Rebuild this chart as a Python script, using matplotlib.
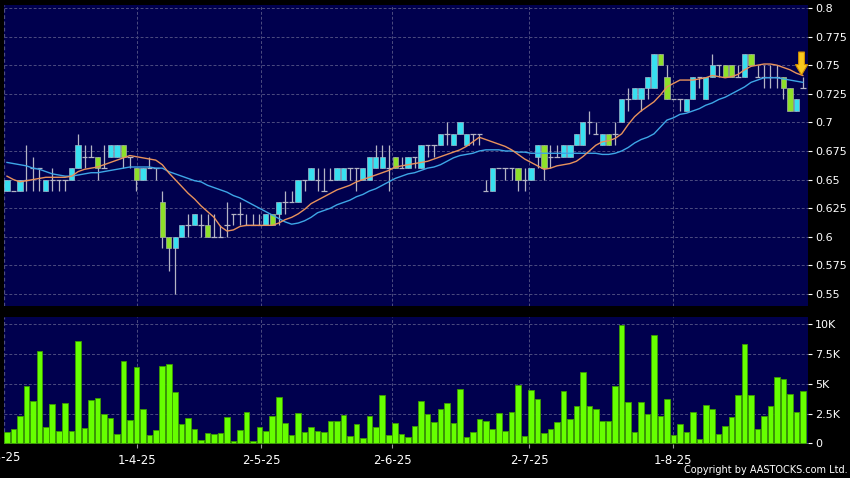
import numpy as np
import matplotlib.pyplot as plt
from matplotlib.patches import Polygon
import matplotlib.transforms as mtransforms

# daily candles (price in HKD), one per trading day
opens = [0.64, 0.64, 0.64, 0.65, 0.66, 0.66, 0.64, 0.65, 0.65, 0.65,
         0.65, 0.66, 0.67, 0.67, 0.67, 0.66, 0.67, 0.67, 0.68, 0.67,
         0.66, 0.65, 0.66, 0.66, 0.63, 0.60, 0.59, 0.60, 0.61, 0.61,
         0.61, 0.61, 0.60, 0.60, 0.61, 0.62, 0.62, 0.61, 0.61, 0.61,
         0.61, 0.62, 0.62, 0.63, 0.63, 0.63, 0.65, 0.65, 0.65, 0.64,
         0.65, 0.65, 0.65, 0.66, 0.66, 0.65, 0.65, 0.66, 0.66, 0.66,
         0.67, 0.66, 0.66, 0.67, 0.66, 0.68, 0.68, 0.68, 0.69, 0.68,
         0.69, 0.68, 0.69, 0.69, 0.64, 0.64, 0.66, 0.66, 0.66, 0.66,
         0.65, 0.65, 0.67, 0.68, 0.67, 0.67, 0.67, 0.67, 0.68, 0.68,
         0.70, 0.69, 0.68, 0.69, 0.69, 0.70, 0.72, 0.72, 0.72, 0.73,
         0.73, 0.76, 0.74, 0.72, 0.72, 0.71, 0.72, 0.74, 0.72, 0.74,
         0.75, 0.75, 0.75, 0.74, 0.74, 0.76, 0.74, 0.74, 0.74, 0.74,
         0.74, 0.73, 0.71, 0.73]
highs = [0.65, 0.64, 0.65, 0.68, 0.67, 0.66, 0.65, 0.66, 0.65, 0.65,
         0.66, 0.69, 0.68, 0.68, 0.67, 0.68, 0.68, 0.68, 0.68, 0.67,
         0.66, 0.66, 0.67, 0.66, 0.64, 0.60, 0.60, 0.61, 0.62, 0.62,
         0.62, 0.62, 0.62, 0.61, 0.63, 0.62, 0.63, 0.62, 0.62, 0.62,
         0.62, 0.62, 0.63, 0.64, 0.64, 0.65, 0.65, 0.66, 0.66, 0.66,
         0.66, 0.66, 0.66, 0.66, 0.66, 0.66, 0.67, 0.68, 0.68, 0.68,
         0.67, 0.67, 0.67, 0.67, 0.68, 0.68, 0.68, 0.69, 0.70, 0.69,
         0.70, 0.69, 0.69, 0.69, 0.65, 0.66, 0.66, 0.66, 0.66, 0.66,
         0.66, 0.66, 0.68, 0.68, 0.68, 0.68, 0.68, 0.68, 0.69, 0.70,
         0.71, 0.70, 0.69, 0.69, 0.70, 0.72, 0.73, 0.73, 0.73, 0.74,
         0.76, 0.76, 0.75, 0.72, 0.72, 0.72, 0.74, 0.74, 0.74, 0.76,
         0.75, 0.75, 0.75, 0.75, 0.76, 0.76, 0.75, 0.75, 0.75, 0.75,
         0.74, 0.73, 0.72, 0.74]
lows = [0.64, 0.64, 0.64, 0.64, 0.64, 0.64, 0.64, 0.64, 0.64, 0.64,
        0.65, 0.66, 0.66, 0.67, 0.65, 0.66, 0.67, 0.67, 0.66, 0.66,
        0.64, 0.65, 0.66, 0.65, 0.59, 0.57, 0.55, 0.60, 0.60, 0.61,
        0.60, 0.60, 0.60, 0.60, 0.60, 0.61, 0.61, 0.61, 0.61, 0.61,
        0.61, 0.61, 0.61, 0.62, 0.63, 0.63, 0.64, 0.65, 0.64, 0.64,
        0.65, 0.65, 0.65, 0.65, 0.64, 0.65, 0.65, 0.66, 0.66, 0.64,
        0.66, 0.66, 0.66, 0.66, 0.66, 0.67, 0.67, 0.68, 0.68, 0.68,
        0.69, 0.68, 0.68, 0.68, 0.64, 0.64, 0.66, 0.65, 0.65, 0.64,
        0.64, 0.65, 0.66, 0.65, 0.66, 0.67, 0.67, 0.67, 0.68, 0.68,
        0.69, 0.69, 0.68, 0.68, 0.68, 0.70, 0.71, 0.72, 0.71, 0.72,
        0.73, 0.75, 0.72, 0.72, 0.71, 0.71, 0.72, 0.73, 0.72, 0.74,
        0.74, 0.74, 0.74, 0.74, 0.74, 0.75, 0.74, 0.73, 0.73, 0.73,
        0.72, 0.71, 0.71, 0.73]
closes = [0.65, 0.64, 0.65, 0.65, 0.66, 0.66, 0.65, 0.65, 0.65, 0.65,
          0.66, 0.68, 0.67, 0.67, 0.66, 0.66, 0.68, 0.68, 0.67, 0.67,
          0.65, 0.66, 0.66, 0.66, 0.60, 0.59, 0.60, 0.61, 0.61, 0.62,
          0.61, 0.60, 0.60, 0.60, 0.61, 0.62, 0.62, 0.61, 0.61, 0.61,
          0.62, 0.61, 0.63, 0.63, 0.63, 0.65, 0.65, 0.66, 0.65, 0.64,
          0.65, 0.66, 0.66, 0.66, 0.66, 0.66, 0.67, 0.67, 0.67, 0.66,
          0.66, 0.66, 0.67, 0.67, 0.68, 0.68, 0.68, 0.69, 0.69, 0.69,
          0.70, 0.69, 0.69, 0.69, 0.64, 0.66, 0.66, 0.66, 0.66, 0.65,
          0.65, 0.66, 0.68, 0.66, 0.67, 0.67, 0.68, 0.68, 0.69, 0.70,
          0.70, 0.69, 0.69, 0.68, 0.69, 0.72, 0.72, 0.73, 0.73, 0.74,
          0.76, 0.75, 0.72, 0.72, 0.72, 0.72, 0.74, 0.74, 0.74, 0.75,
          0.75, 0.74, 0.74, 0.74, 0.76, 0.75, 0.74, 0.74, 0.74, 0.74,
          0.73, 0.71, 0.72, 0.73]

# moving averages
ma_short = [0.653, 0.650, 0.648, 0.649, 0.650, 0.651, 0.652, 0.652, 0.652, 0.652,
            0.653, 0.657, 0.659, 0.660, 0.661, 0.663, 0.665, 0.667, 0.669, 0.671,
            0.670, 0.669, 0.668, 0.667, 0.663, 0.656, 0.650, 0.644, 0.638, 0.633,
            0.627, 0.622, 0.617, 0.609, 0.605, 0.606, 0.609, 0.610, 0.610, 0.610,
            0.610, 0.610, 0.612, 0.615, 0.617, 0.620, 0.624, 0.629, 0.632, 0.635,
            0.638, 0.641, 0.643, 0.645, 0.648, 0.650, 0.652, 0.654, 0.656, 0.658,
            0.661, 0.662, 0.663, 0.664, 0.665, 0.666, 0.668, 0.670, 0.672, 0.674,
            0.676, 0.679, 0.683, 0.687, 0.685, 0.683, 0.681, 0.679, 0.676, 0.672,
            0.668, 0.665, 0.662, 0.659, 0.660, 0.662, 0.663, 0.664, 0.666, 0.670,
            0.675, 0.680, 0.683, 0.684, 0.686, 0.690, 0.698, 0.705, 0.710, 0.714,
            0.718, 0.724, 0.731, 0.734, 0.737, 0.737, 0.737, 0.738, 0.739, 0.741,
            0.740, 0.739, 0.740, 0.742, 0.746, 0.749, 0.750, 0.751, 0.751, 0.750,
            0.748, 0.746, 0.743, 0.741]
ma_long = [0.665, 0.664, 0.663, 0.662, 0.660, 0.659, 0.657, 0.655, 0.654, 0.653,
           0.653, 0.654, 0.655, 0.656, 0.656, 0.657, 0.658, 0.659, 0.660, 0.661,
           0.661, 0.661, 0.661, 0.660, 0.660, 0.657, 0.655, 0.653, 0.651, 0.649,
           0.648, 0.645, 0.643, 0.641, 0.639, 0.636, 0.634, 0.631, 0.628, 0.625,
           0.622, 0.619, 0.616, 0.613, 0.611, 0.612, 0.614, 0.617, 0.621, 0.623,
           0.625, 0.628, 0.630, 0.632, 0.635, 0.637, 0.640, 0.642, 0.645, 0.648,
           0.651, 0.653, 0.655, 0.656, 0.658, 0.660, 0.661, 0.663, 0.666, 0.669,
           0.671, 0.672, 0.673, 0.675, 0.676, 0.676, 0.676, 0.675, 0.675, 0.674,
           0.674, 0.673, 0.673, 0.673, 0.673, 0.673, 0.673, 0.673, 0.673, 0.673,
           0.673, 0.673, 0.672, 0.672, 0.673, 0.675, 0.678, 0.682, 0.685, 0.687,
           0.690, 0.696, 0.702, 0.704, 0.707, 0.708, 0.710, 0.712, 0.715, 0.717,
           0.720, 0.722, 0.725, 0.728, 0.731, 0.735, 0.737, 0.739, 0.739, 0.739,
           0.738, 0.737, 0.736, 0.735]

# volume in thousands of shares
volume_k = [0.95, 1.18, 2.3, 4.86, 3.57, 7.75, 1.38, 3.31, 1.0, 3.43,
            1.04, 8.57, 1.26, 3.65, 3.85, 2.44, 2.16, 0.76, 6.9, 2.0,
            6.46, 2.92, 0.7, 1.12, 6.5, 6.69, 4.35, 1.6, 2.13, 1.2,
            0.25, 0.9, 0.81, 0.9, 2.25, 0.2, 1.1, 2.6, 0.2, 1.4,
            1.07, 2.27, 3.93, 1.69, 0.67, 2.56, 0.95, 1.35, 1.04, 0.98,
            1.88, 1.88, 2.36, 0.59, 1.66, 0.42, 2.3, 1.38, 4.1, 0.7,
            1.71, 0.76, 0.53, 1.43, 3.54, 2.47, 1.83, 2.89, 3.37, 1.71,
            4.6, 0.5, 0.98, 2.02, 1.88, 1.18, 2.56, 1.07, 2.61, 4.92,
            0.65, 4.47, 3.76, 0.9, 1.18, 1.83, 4.4, 2.02, 3.1, 6.0,
            3.1, 2.87, 1.88, 1.85, 4.83, 9.97, 3.48, 0.95, 3.46, 2.47,
            9.1, 2.3, 3.76, 0.67, 1.63, 0.98, 2.64, 0.39, 3.23, 2.89,
            0.79, 1.43, 2.25, 4.07, 8.37, 4.04, 1.18, 2.3, 3.1, 5.6,
            5.42, 4.19, 2.61, 4.4]

date_labels = ['3-3-25', '1-4-25', '2-5-25', '2-6-25', '2-7-25', '1-8-25']
date_pos = [-0.93, 20.14, 39.3, 59.55, 80.73, 103.0]
price_ticks = [0.55, 0.575, 0.6, 0.625, 0.65, 0.675, 0.7, 0.725, 0.75, 0.775, 0.8]
price_labels = ['0.55', '0.575', '0.6', '0.625', '0.65', '0.675', '0.7', '0.725', '0.75', '0.775', '0.8']
vol_ticks = [0, 2500, 5000, 7500, 10000]
vol_labels = ['0', '2.5K', '5K', '7.5K', '10K']

navy = '#00004e'
grid_col = '#4c4c80'
up_col = '#38e0f0'
down_col = '#8ee02a'
wick_col = '#b4b4c4'

o = np.array(opens)
h = np.array(highs)
l = np.array(lows)
c = np.array(closes)
x = np.arange(len(o))

fig = plt.figure(figsize=(8.5, 4.78), dpi=100, facecolor='black')
W, H = 850, 478
ax = fig.add_axes([4 / W, 1 - 306 / H, 804 / W, 301 / H])
axv = fig.add_axes([4 / W, 1 - 444 / H, 804 / W, 127 / H])

xlim = (-0.46, 123.8)
for a in (ax, axv):
    a.set_facecolor(navy)
    for s in a.spines.values():
        s.set_visible(False)
    a.set_xlim(*xlim)
    a.yaxis.tick_right()
    a.tick_params(axis='y', colors='white', labelsize=8, length=3, width=0.8, pad=2,
                  direction='out')
    a.set_axisbelow(True)
    a.grid(True, linestyle=(0, (3, 2)), color=grid_col, linewidth=0.7)
    a.axvline(xlim[0] + 0.05, linestyle=(0, (3, 2)), color=grid_col, linewidth=0.9)
    a.set_xticks(date_pos[1:])

# price panel
ax.set_ylim(0.5395, 0.8026)
ax.set_yticks(price_ticks)
ax.set_yticklabels(price_labels)
ax.tick_params(axis='x', length=0, labelbottom=False)

up = c > o
dn = c < o
flat = c == o
ax.vlines(x, l, h, color=wick_col, linewidth=0.9, zorder=2)
ax.hlines(c[flat], x[flat] - 0.42, x[flat] + 0.42, color=wick_col, linewidth=0.9, zorder=2)
ax.bar(x[up], (c - o)[up], bottom=o[up], width=0.82, color=up_col,
       edgecolor='#9fb6c8', linewidth=0.5, zorder=3)
ax.bar(x[dn], (o - c)[dn], bottom=c[dn], width=0.82, color=down_col,
       edgecolor='#a9b4a0', linewidth=0.5, zorder=3)
ax.plot(x, ma_long, color='#3ea6e6', linewidth=1.0, zorder=4)
ax.plot(x, ma_short, color='#e8925c', linewidth=1.0, zorder=4)

# latest-day marker arrow
arrow = Polygon([(122.35, 0.7615), (123.25, 0.7615), (123.25, 0.7505), (123.75, 0.7505),
                 (122.8, 0.7414), (121.85, 0.7505), (122.35, 0.7505)],
                closed=True, facecolor='#f8c81e', edgecolor='#d08c00', linewidth=0.8,
                zorder=6, clip_on=False)
ax.add_patch(arrow)

# volume panel
axv.bar(x, np.array(volume_k) * 1000, width=0.86, color='#66ff00',
        edgecolor='#3c9c00', linewidth=0.6, zorder=3)
axv.set_ylim(-59, 10631)
axv.set_yticks(vol_ticks)
axv.set_yticklabels(vol_labels)
axv.set_xticklabels(date_labels[1:])
axv.tick_params(axis='x', colors='white', labelsize=8.5, length=3, width=0.8, pad=4,
                color='#9a9a9a')

trans = mtransforms.blended_transform_factory(axv.transData, axv.transAxes)
axv.text(date_pos[0], -7 / 127, date_labels[0], transform=trans, ha='center', va='top',
         color='white', fontsize=8.5, clip_on=False)

fig.text(848 / W, 1 - 470 / H, 'Copyright by AASTOCKS.com Ltd.', ha='right', va='center',
         color='white', fontsize=7.0)

fig.savefig('out.png', dpi=100, facecolor='black')
